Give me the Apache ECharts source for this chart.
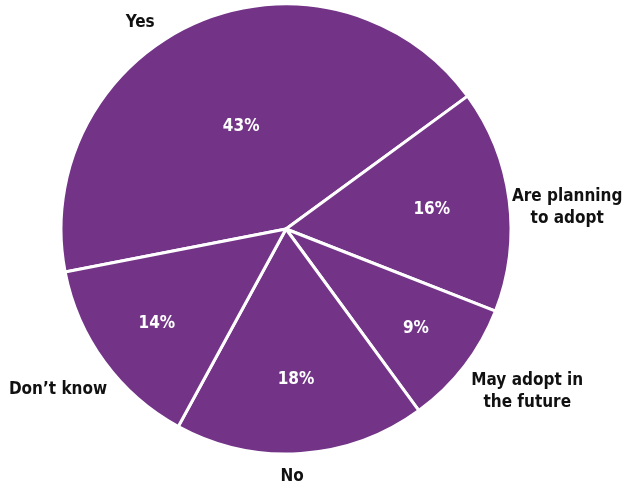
<!DOCTYPE html>
<html>
<head>
<meta charset="utf-8">
<script src="https://cdn.jsdelivr.net/npm/echarts@6/dist/echarts.min.js"></script>
<style>
  html, body { margin: 0; padding: 0; background: #fff; }
  #chart { width: 631px; height: 490px; }
</style>
</head>
<body>
<div id="chart"></div>
<script>
var categories = ['Yes', 'Are planning\nto adopt', 'May adopt in\nthe future', 'No', 'Don\u2019t know'];
var values = [43, 16, 9, 18, 14];

var FONT = '"DejaVu Sans Condensed", "Liberation Sans Narrow", "Arial Narrow", sans-serif';
var PURPLE = '#733488';
var CX = 286, CY = 229, R = 225, START = 191;

// where each label sits: distance from centre, and angle nudge off the slice middle
var pctRadius = [112, 147, 164, 151, 160];
var nameRadius = [253, 282, 291, 248, 279];
var nameTurn = [11.6, -3.1, 3.6, -2.4, -1.0];

// middle angle of every slice (degrees, ccw from east), walking clockwise from START
var total = values.reduce(function (a, b) { return a + b; }, 0);
var midAngle = [];
var acc = START;
values.forEach(function (v) {
  var span = v / total * 360;
  midAngle.push(acc - span / 2);
  acc -= span;
});

var at = function (r, deg) {
  var a = deg * Math.PI / 180;
  return { x: CX + r * Math.cos(a), y: CY - r * Math.sin(a) };
};

var pieData = categories.map(function (c, i) {
  return { name: c, value: values[i] };
});

var chart = echarts.init(document.getElementById('chart'));
chart.setOption({
  animation: false,
  series: [
    {
      type: 'pie',
      center: [CX, CY],
      radius: R,
      startAngle: START,
      clockwise: true,
      silent: true,
      itemStyle: { color: PURPLE, borderColor: '#fff', borderWidth: 3 },
      label: {
        position: 'inside',
        formatter: '{c}%',
        color: '#fff',
        fontFamily: FONT,
        fontWeight: 'bold',
        fontSize: 17
      },
      labelLayout: function (p) {
        var pt = at(pctRadius[p.dataIndex], midAngle[p.dataIndex]);
        return { x: pt.x, y: pt.y, align: 'center', verticalAlign: 'middle' };
      },
      data: pieData
    },
    {
      type: 'pie',
      center: [CX, CY],
      radius: R,
      startAngle: START,
      clockwise: true,
      silent: true,
      itemStyle: { color: 'rgba(0,0,0,0)', borderWidth: 0 },
      label: {
        position: 'inside',
        formatter: '{b}',
        color: '#111',
        fontFamily: FONT,
        fontWeight: 'bold',
        fontSize: 17,
        lineHeight: 22,
        align: 'center'
      },
      labelLine: { show: false },
      labelLayout: function (p) {
        var i = p.dataIndex;
        var pt = at(nameRadius[i], midAngle[i] + nameTurn[i]);
        return { x: pt.x, y: pt.y, align: 'center', verticalAlign: 'middle' };
      },
      data: pieData
    }
  ]
});
</script>
</body>
</html>
